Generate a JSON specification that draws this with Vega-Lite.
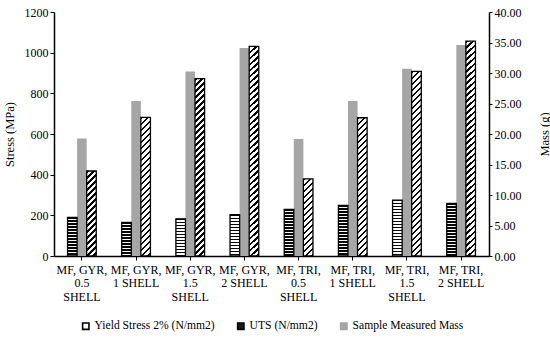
{
  "$schema": "https://vega.github.io/schema/vega-lite/v6.json",
  "width": 435,
  "height": 244,
  "autosize": {"type": "none"},
  "padding": {"left": 54, "top": 12, "right": 61, "bottom": 82},
  "background": "white",
  "config": {"view": {"stroke": null}, "font": "Times New Roman, Liberation Serif, serif"},
  "params": [
    {"name": "hatch", "value": [
      {"offset":0,"color":"#000"},{"offset":0.01,"color":"#000"},{"offset":0.01,"color":"#fff"},{"offset":0.025,"color":"#fff"},
      {"offset":0.025,"color":"#000"},{"offset":0.035,"color":"#000"},{"offset":0.035,"color":"#fff"},{"offset":0.05,"color":"#fff"},
      {"offset":0.05,"color":"#000"},{"offset":0.06,"color":"#000"},{"offset":0.06,"color":"#fff"},{"offset":0.075,"color":"#fff"},
      {"offset":0.075,"color":"#000"},{"offset":0.085,"color":"#000"},{"offset":0.085,"color":"#fff"},{"offset":0.1,"color":"#fff"},
      {"offset":0.1,"color":"#000"},{"offset":0.11,"color":"#000"},{"offset":0.11,"color":"#fff"},{"offset":0.125,"color":"#fff"},
      {"offset":0.125,"color":"#000"},{"offset":0.135,"color":"#000"},{"offset":0.135,"color":"#fff"},{"offset":0.15,"color":"#fff"},
      {"offset":0.15,"color":"#000"},{"offset":0.16,"color":"#000"},{"offset":0.16,"color":"#fff"},{"offset":0.175,"color":"#fff"},
      {"offset":0.175,"color":"#000"},{"offset":0.185,"color":"#000"},{"offset":0.185,"color":"#fff"},{"offset":0.2,"color":"#fff"},
      {"offset":0.2,"color":"#000"},{"offset":0.21,"color":"#000"},{"offset":0.21,"color":"#fff"},{"offset":0.225,"color":"#fff"},
      {"offset":0.225,"color":"#000"},{"offset":0.235,"color":"#000"},{"offset":0.235,"color":"#fff"},{"offset":0.25,"color":"#fff"},
      {"offset":0.25,"color":"#000"},{"offset":0.26,"color":"#000"},{"offset":0.26,"color":"#fff"},{"offset":0.275,"color":"#fff"},
      {"offset":0.275,"color":"#000"},{"offset":0.285,"color":"#000"},{"offset":0.285,"color":"#fff"},{"offset":0.3,"color":"#fff"},
      {"offset":0.3,"color":"#000"},{"offset":0.31,"color":"#000"},{"offset":0.31,"color":"#fff"},{"offset":0.325,"color":"#fff"},
      {"offset":0.325,"color":"#000"},{"offset":0.335,"color":"#000"},{"offset":0.335,"color":"#fff"},{"offset":0.35,"color":"#fff"},
      {"offset":0.35,"color":"#000"},{"offset":0.36,"color":"#000"},{"offset":0.36,"color":"#fff"},{"offset":0.375,"color":"#fff"},
      {"offset":0.375,"color":"#000"},{"offset":0.385,"color":"#000"},{"offset":0.385,"color":"#fff"},{"offset":0.4,"color":"#fff"},
      {"offset":0.4,"color":"#000"},{"offset":0.41,"color":"#000"},{"offset":0.41,"color":"#fff"},{"offset":0.425,"color":"#fff"},
      {"offset":0.425,"color":"#000"},{"offset":0.435,"color":"#000"},{"offset":0.435,"color":"#fff"},{"offset":0.45,"color":"#fff"},
      {"offset":0.45,"color":"#000"},{"offset":0.46,"color":"#000"},{"offset":0.46,"color":"#fff"},{"offset":0.475,"color":"#fff"},
      {"offset":0.475,"color":"#000"},{"offset":0.485,"color":"#000"},{"offset":0.485,"color":"#fff"},{"offset":0.5,"color":"#fff"},
      {"offset":0.5,"color":"#000"},{"offset":0.51,"color":"#000"},{"offset":0.51,"color":"#fff"},{"offset":0.525,"color":"#fff"},
      {"offset":0.525,"color":"#000"},{"offset":0.535,"color":"#000"},{"offset":0.535,"color":"#fff"},{"offset":0.55,"color":"#fff"},
      {"offset":0.55,"color":"#000"},{"offset":0.56,"color":"#000"},{"offset":0.56,"color":"#fff"},{"offset":0.575,"color":"#fff"},
      {"offset":0.575,"color":"#000"},{"offset":0.585,"color":"#000"},{"offset":0.585,"color":"#fff"},{"offset":0.6,"color":"#fff"},
      {"offset":0.6,"color":"#000"},{"offset":0.61,"color":"#000"},{"offset":0.61,"color":"#fff"},{"offset":0.625,"color":"#fff"},
      {"offset":0.625,"color":"#000"},{"offset":0.635,"color":"#000"},{"offset":0.635,"color":"#fff"},{"offset":0.65,"color":"#fff"},
      {"offset":0.65,"color":"#000"},{"offset":0.66,"color":"#000"},{"offset":0.66,"color":"#fff"},{"offset":0.675,"color":"#fff"},
      {"offset":0.675,"color":"#000"},{"offset":0.685,"color":"#000"},{"offset":0.685,"color":"#fff"},{"offset":0.7,"color":"#fff"},
      {"offset":0.7,"color":"#000"},{"offset":0.71,"color":"#000"},{"offset":0.71,"color":"#fff"},{"offset":0.725,"color":"#fff"},
      {"offset":0.725,"color":"#000"},{"offset":0.735,"color":"#000"},{"offset":0.735,"color":"#fff"},{"offset":0.75,"color":"#fff"},
      {"offset":0.75,"color":"#000"},{"offset":0.76,"color":"#000"},{"offset":0.76,"color":"#fff"},{"offset":0.775,"color":"#fff"},
      {"offset":0.775,"color":"#000"},{"offset":0.785,"color":"#000"},{"offset":0.785,"color":"#fff"},{"offset":0.8,"color":"#fff"},
      {"offset":0.8,"color":"#000"},{"offset":0.81,"color":"#000"},{"offset":0.81,"color":"#fff"},{"offset":0.825,"color":"#fff"},
      {"offset":0.825,"color":"#000"},{"offset":0.835,"color":"#000"},{"offset":0.835,"color":"#fff"},{"offset":0.85,"color":"#fff"},
      {"offset":0.85,"color":"#000"},{"offset":0.86,"color":"#000"},{"offset":0.86,"color":"#fff"},{"offset":0.875,"color":"#fff"},
      {"offset":0.875,"color":"#000"},{"offset":0.885,"color":"#000"},{"offset":0.885,"color":"#fff"},{"offset":0.9,"color":"#fff"},
      {"offset":0.9,"color":"#000"},{"offset":0.91,"color":"#000"},{"offset":0.91,"color":"#fff"},{"offset":0.925,"color":"#fff"},
      {"offset":0.925,"color":"#000"},{"offset":0.935,"color":"#000"},{"offset":0.935,"color":"#fff"},{"offset":0.95,"color":"#fff"},
      {"offset":0.95,"color":"#000"},{"offset":0.96,"color":"#000"},{"offset":0.96,"color":"#fff"},{"offset":0.975,"color":"#fff"},
      {"offset":0.975,"color":"#000"},{"offset":0.985,"color":"#000"},{"offset":0.985,"color":"#fff"},{"offset":1,"color":"#fff"}
    ]}
  ],
  "data": {"values": [
    {"cat": "MF, GYR, 0.5 SHELL", "series": "Yield Stress 2% (N/mm2)", "value": 190},
    {"cat": "MF, GYR, 1 SHELL", "series": "Yield Stress 2% (N/mm2)", "value": 165},
    {"cat": "MF, GYR, 1.5 SHELL", "series": "Yield Stress 2% (N/mm2)", "value": 183},
    {"cat": "MF, GYR, 2 SHELL", "series": "Yield Stress 2% (N/mm2)", "value": 203},
    {"cat": "MF, TRI, 0.5 SHELL", "series": "Yield Stress 2% (N/mm2)", "value": 229},
    {"cat": "MF, TRI, 1 SHELL", "series": "Yield Stress 2% (N/mm2)", "value": 249},
    {"cat": "MF, TRI, 1.5 SHELL", "series": "Yield Stress 2% (N/mm2)", "value": 275},
    {"cat": "MF, TRI, 2 SHELL", "series": "Yield Stress 2% (N/mm2)", "value": 259},
    {"cat": "MF, GYR, 0.5 SHELL", "series": "UTS (N/mm2)", "value": 418},
    {"cat": "MF, GYR, 1 SHELL", "series": "UTS (N/mm2)", "value": 682},
    {"cat": "MF, GYR, 1.5 SHELL", "series": "UTS (N/mm2)", "value": 872},
    {"cat": "MF, GYR, 2 SHELL", "series": "UTS (N/mm2)", "value": 1031},
    {"cat": "MF, TRI, 0.5 SHELL", "series": "UTS (N/mm2)", "value": 379},
    {"cat": "MF, TRI, 1 SHELL", "series": "UTS (N/mm2)", "value": 680},
    {"cat": "MF, TRI, 1.5 SHELL", "series": "UTS (N/mm2)", "value": 908},
    {"cat": "MF, TRI, 2 SHELL", "series": "UTS (N/mm2)", "value": 1057},
    {"cat": "MF, GYR, 0.5 SHELL", "series": "Sample Measured Mass", "value": 19.28},
    {"cat": "MF, GYR, 1 SHELL", "series": "Sample Measured Mass", "value": 25.41},
    {"cat": "MF, GYR, 1.5 SHELL", "series": "Sample Measured Mass", "value": 30.26},
    {"cat": "MF, GYR, 2 SHELL", "series": "Sample Measured Mass", "value": 34.1},
    {"cat": "MF, TRI, 0.5 SHELL", "series": "Sample Measured Mass", "value": 19.18},
    {"cat": "MF, TRI, 1 SHELL", "series": "Sample Measured Mass", "value": 25.41},
    {"cat": "MF, TRI, 1.5 SHELL", "series": "Sample Measured Mass", "value": 30.7},
    {"cat": "MF, TRI, 2 SHELL", "series": "Sample Measured Mass", "value": 34.59}
  ]},
  "encoding": {
    "x": {
      "field": "cat", "type": "nominal",
      "sort": ["MF, GYR, 0.5 SHELL", "MF, GYR, 1 SHELL", "MF, GYR, 1.5 SHELL", "MF, GYR, 2 SHELL", "MF, TRI, 0.5 SHELL", "MF, TRI, 1 SHELL", "MF, TRI, 1.5 SHELL", "MF, TRI, 2 SHELL"],
      "scale": {"paddingInner": 0.47, "paddingOuter": 0.25},
      "axis": {
        "title": null, "labelAngle": 0, "labelFont": "Times New Roman, Liberation Serif, serif", "labelFontSize": 12, "labelColor": "black",
        "labelLineHeight": 13.5, "labelBaseline": "top", "labelPadding": 4, "labelLimit": 0, "labelOverlap": false,
        "labelExpr": "length(datum.label) > 16 ? [slice(datum.label, 0, 8), slice(datum.label, 9, -6), 'SHELL'] : [slice(datum.label, 0, 8), slice(datum.label, 9)]",
        "tickSize": 4, "tickColor": "black", "tickWidth": 1, "domainColor": "black", "domainWidth": 1.5, "grid": false
      }
    },
    "xOffset": {
      "field": "series", "type": "nominal",
      "scale": {"domain": ["Yield Stress 2% (N/mm2)", "Sample Measured Mass", "UTS (N/mm2)"], "paddingInner": 0, "paddingOuter": 0}
    }
  },
  "layer": [
    {
      "transform": [{"filter": "datum.series == 'Sample Measured Mass'"}],
      "mark": {"type": "bar", "strokeWidth": 0},
      "encoding": {
        "y": {
          "field": "value", "type": "quantitative",
          "scale": {"domain": [0, 40], "nice": false, "zero": true},
          "axis": {
            "orient": "right", "values": [0, 5, 10, 15, 20, 25, 30, 35, 40], "format": ".2f",
            "title": "Mass (g)", "titleAngle": 270, "titleFont": "Times New Roman, Liberation Serif, serif", "titleFontSize": 12.5, "titleFontWeight": "normal", "titleColor": "black", "titlePadding": 30,
            "labelFont": "Times New Roman, Liberation Serif, serif", "labelFontSize": 12, "labelColor": "black", "labelPadding": 2,
            "tickSize": 3, "tickColor": "black", "domainColor": "black", "domainWidth": 1.5, "grid": false
          }
        },
        "fill": {
          "field": "series", "type": "nominal",
          "scale": {"domain": ["Yield Stress 2% (N/mm2)", "UTS (N/mm2)", "Sample Measured Mass"], "range": ["#ffffff", "#1a1a1a", "#a6a6a6"]},
          "legend": {"title": null, "orient": "none", "direction": "horizontal", "legendX": 26, "legendY": 308, "padding": 0,
            "symbolType": "square", "symbolSize": 40, "symbolStrokeWidth": 1.6, "labelFont": "Times New Roman, Liberation Serif, serif", "labelFontSize": 11.6, "labelColor": "black", "labelOffset": 3, "columnPadding": 19, "labelLimit": 0}
        },
        "stroke": {
          "field": "series", "type": "nominal",
          "scale": {"domain": ["Yield Stress 2% (N/mm2)", "UTS (N/mm2)", "Sample Measured Mass"], "range": ["#000000", "#000000", "#a6a6a6"]},
          "legend": {"title": null, "orient": "none", "direction": "horizontal", "legendX": 26, "legendY": 308, "padding": 0,
            "symbolType": "square", "symbolSize": 40, "symbolStrokeWidth": 1.6, "labelFont": "Times New Roman, Liberation Serif, serif", "labelFontSize": 11.6, "labelColor": "black", "labelOffset": 3, "columnPadding": 19, "labelLimit": 0}
        }
      }
    },
    {
      "encoding": {
        "y": {
          "field": "value", "type": "quantitative",
          "scale": {"domain": [0, 1200], "nice": false},
          "axis": {
            "orient": "left", "values": [0, 200, 400, 600, 800, 1000, 1200], "format": "d",
            "title": "Stress (MPa)", "titleFont": "Times New Roman, Liberation Serif, serif", "titleFontSize": 12.5, "titleFontWeight": "normal", "titleColor": "black", "titlePadding": 8,
            "labelFont": "Times New Roman, Liberation Serif, serif", "labelFontSize": 12, "labelColor": "black", "labelPadding": 2,
            "tickSize": 4, "tickColor": "black", "domainColor": "black", "domainWidth": 1.5, "grid": false
          }
        }
      },
      "layer": [
        {
          "transform": [{"filter": "datum.series == 'Yield Stress 2% (N/mm2)'"}],
          "mark": {"type": "bar", "stroke": "black", "strokeWidth": 1.3},
          "encoding": {
            "fill": {"value": {"expr": "{gradient: 'linear', x1: 0, y1: 0, x2: 0, y2: 120 / max(1, datum.value * 0.20333), stops: hatch}"}}
          }
        },
        {
          "transform": [{"filter": "datum.series == 'UTS (N/mm2)'"}],
          "mark": {"type": "bar", "stroke": "black", "strokeWidth": 1.3},
          "encoding": {
            "fill": {"value": {"expr": "{gradient: 'linear', x1: 0, y1: 0, x2: 9.5 * 240 / (90.25 + pow(datum.value * 0.20333, 2)), y2: datum.value * 0.20333 * 240 / (90.25 + pow(datum.value * 0.20333, 2)), stops: hatch}"}}
          }
        }
      ]
    }
  ],
  "resolve": {"scale": {"y": "independent"}}
}
